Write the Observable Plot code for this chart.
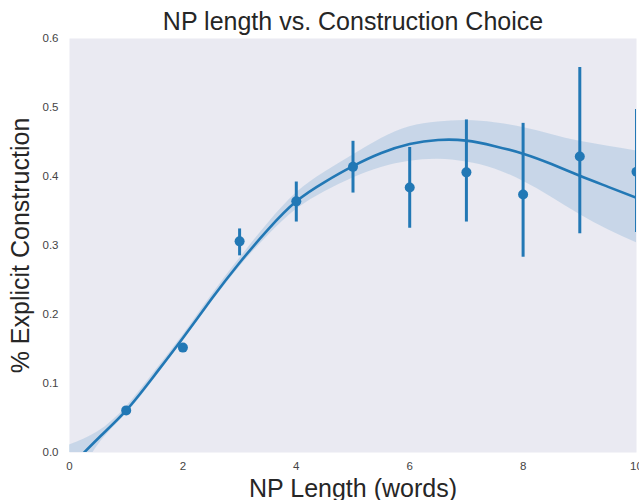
<!DOCTYPE html>
<html>
<head>
<meta charset="utf-8">
<script src="https://cdn.jsdelivr.net/npm/d3@7"></script>
<script src="https://cdn.jsdelivr.net/npm/@observablehq/plot@0.6"></script>
<style>
  html, body { margin: 0; padding: 0; background: #fff; }
</style>
</head>
<body>
<div id="chart"></div>
<script>
// Binned estimates (mean with CI) per NP length
const npLength = [1, 2, 3, 4, 5, 6, 7, 8, 9, 10];
const pctExplicit = [0.061, 0.152, 0.306, 0.364, 0.414, 0.384, 0.406, 0.374, 0.429, 0.407];
const ciLow  = [0.056, 0.145, 0.285, 0.334, 0.376, 0.325, 0.334, 0.283, 0.317, 0.319];
const ciHigh = [0.066, 0.158, 0.324, 0.392, 0.451, 0.442, 0.482, 0.477, 0.558, 0.497];

// Regression fit and its confidence band
const fitX    = [0, 0.5, 1, 1.5, 2, 2.5, 3, 3.5, 4, 4.5, 5, 5.5, 6, 6.5, 7, 7.5, 8, 8.5, 9, 9.5, 10];
const fitY    = [-0.022, 0.020, 0.061, 0.112, 0.166, 0.222, 0.275, 0.323, 0.364, 0.392, 0.415, 0.434, 0.447, 0.453, 0.452, 0.444, 0.433, 0.418, 0.401, 0.385, 0.369];
const bandLow = [-0.060, 0.010, 0.056, 0.107, 0.162, 0.217, 0.269, 0.314, 0.352, 0.378, 0.398, 0.413, 0.422, 0.425, 0.421, 0.411, 0.393, 0.370, 0.345, 0.323, 0.304];
const bandHigh= [0.011, 0.030, 0.066, 0.117, 0.170, 0.227, 0.281, 0.332, 0.376, 0.406, 0.431, 0.455, 0.472, 0.479, 0.481, 0.478, 0.471, 0.461, 0.451, 0.444, 0.437];

const xTicks = [0, 2, 4, 6, 8, 10];
const yTicks = [0.0, 0.1, 0.2, 0.3, 0.4, 0.5, 0.6];

const title = "NP length vs. Construction Choice";
const xLabel = "NP Length (words)";
const yLabel = "% Explicit Construction";

const points = npLength.map((x, i) => ({x, y: pctExplicit[i], lo: ciLow[i], hi: ciHigh[i]}));
const fit = fitX.map((x, i) => ({x, y: fitY[i], lo: bandLow[i], hi: bandHigh[i]}));

const blue = "#2278b5";
const textColor = "#262626";

const chart = Plot.plot({
  width: 639,
  height: 500,
  marginLeft: 69,
  marginRight: 3,
  marginTop: 38,
  marginBottom: 48,
  style: { fontFamily: "'Liberation Sans', Arial, sans-serif", color: textColor, background: "#fff", overflow: "visible" },
  x: { domain: [0, 10], ticks: xTicks, tickFormat: d3.format("d") },
  y: { domain: [0, 0.6], ticks: yTicks, tickFormat: d3.format(".1f") },
  marks: [
    Plot.frame({ fill: "#eaeaf2", stroke: null }),
    Plot.areaY(fit, { x: "x", y1: "lo", y2: "hi", curve: "natural", fill: blue, fillOpacity: 0.17, clip: true }),
    Plot.line(fit, { x: "x", y: "y", curve: "natural", stroke: blue, strokeWidth: 2.6, clip: true }),
    Plot.ruleX(points, { x: "x", y1: "lo", y2: "hi", stroke: blue, strokeWidth: 3, clip: true }),
    Plot.dot(points, { x: "x", y: "y", r: 5, fill: blue, stroke: null, clip: true }),
    Plot.axisX({ ticks: xTicks, tickFormat: d3.format("d"), tickSize: 0, tickPadding: 9, fontSize: 11.5, label: null, fill: "#444" }),
    Plot.axisY({ ticks: yTicks, tickFormat: d3.format(".1f"), tickSize: 0, tickPadding: 11, fontSize: 11.5, label: null, fill: "#444" }),
    Plot.text([title], { frameAnchor: "top", dy: -9, lineAnchor: "bottom", fontSize: 25, fill: textColor }),
    Plot.text([xLabel], { frameAnchor: "bottom", dy: 44, lineAnchor: "bottom", fontSize: 25, fill: textColor }),
    Plot.text([yLabel], { frameAnchor: "left", dx: -41, rotate: -90, textAnchor: "middle", lineAnchor: "bottom", fontSize: 25, fill: textColor })
  ]
});

document.getElementById("chart").appendChild(chart);
</script>
</body>
</html>
